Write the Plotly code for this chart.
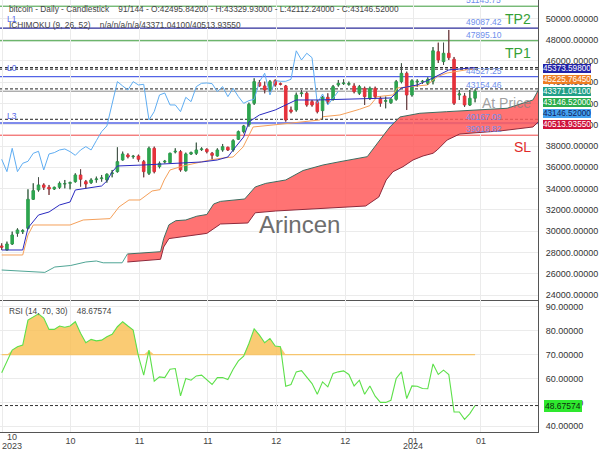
import plotly.graph_objects as go
from plotly.subplots import make_subplots

FONT = "Liberation Sans, Arial, sans-serif"

# ---------------- data ----------------
opens = [28608, 28232, 28796, 29799, 29955, 30268, 32994, 33872, 34342, 34122,
         33965, 34122, 34435, 34498, 34655, 35281, 34655, 34561, 34843, 34937,
         34811, 35407, 35595, 36691, 37161, 37005, 37067, 36535, 35438, 37788,
         36065, 36503, 36441, 37443, 37475, 35689, 37255, 37318, 37662, 37694,
         37318, 37067, 37631, 37882, 37631, 38634, 39354, 40012, 42017, 43960,
         43647, 43270, 44148, 43866, 43647, 41391, 41391, 42926, 42957, 42174,
         42174, 41328, 42581, 42393, 43740, 43866, 43803, 43647, 42957, 43427,
         42487, 43427, 42487, 42205, 42080, 42393, 44054, 44837, 42800, 44022,
         44022, 43897, 44100, 46870, 45934, 46720, 46156, 42800, 42706, 41860,
         42495.842]
highs = [28859, 29015, 29955, 30268, 30175, 33934, 34498, 35062, 34498, 34342,
         34185, 34655, 34811, 34655, 35438, 35814, 34811, 34968, 35125, 35281,
         35438, 35751, 37882, 37475, 37318, 37161, 37192, 36691, 37944, 37944,
         36535, 36691, 37380, 37788, 37631, 37380, 37475, 38320, 37882, 37788,
         37443, 37788, 38195, 37944, 38634, 39448, 39981, 42080, 44367, 44210,
         44054, 44210, 44273, 43960, 43740, 41704, 43020, 43270, 43114, 42331,
         42331, 42707, 42957, 43740, 44210, 44273, 44054, 43897, 43740, 43584,
         43584, 43584, 42644, 42644, 42487, 44210, 45777, 44994, 44273, 44273,
         44210, 44461, 47300, 47716, 47716, 48910, 46372, 43270, 42988, 43270,
         43329.93]
lows = [28232, 28169, 28702, 29485, 29736, 30175, 32932, 33715, 33872, 33402,
        33872, 33965, 34028, 33934, 34561, 34185, 34028, 34435, 34561, 34655,
        34561, 35062, 35501, 36629, 36848, 36817, 36535, 35062, 35281, 35438,
        35908, 36378, 36378, 37318, 35595, 35595, 37161, 37161, 37537, 37318,
        36754, 37005, 37475, 37537, 37475, 38571, 39198, 39824, 41861, 43584,
        42957, 43114, 43584, 43709, 40294, 41077, 41234, 42644, 41704, 41704,
        41077, 40451, 41955, 42268, 43584, 43740, 43678, 42957, 42800, 41861,
        42331, 42487, 41704, 41547, 41955, 42268, 43897, 41391, 42644, 43584,
        43834, 43740, 43800, 45808, 45620, 46090, 41860, 42330, 41672, 41766,
        42112.24]
closes = [28483, 28796, 29640, 30111, 30049, 32994, 33809, 34342, 34122, 33965,
          34122, 34498, 34467, 34561, 35281, 34874, 34435, 34811, 34905, 35000,
          35344, 35469, 36535, 37255, 37005, 37036, 36754, 35595, 37788, 35595,
          36378, 36566, 37318, 37506, 35751, 37255, 37380, 37631, 37725, 37475,
          37130, 37631, 37944, 37631, 38508, 39354, 39887, 41923, 44054, 43647,
          43270, 44054, 43740, 43803, 40451, 41234, 42800, 42988, 41861, 41861,
          41234, 42581, 42174, 43584, 43897, 43928, 43866, 43114, 43584, 42644,
          43427, 42644, 42017, 42268, 42393, 44054, 44837, 42800, 44148, 44085,
          44085, 44273, 46950, 46090, 46720, 46306, 42020, 42894, 41860, 42490,
          43146.52]
bars = list(range(len(closes)))

tenkan_x = [0, 4, 5, 7, 9, 11, 13, 14, 19, 20, 21, 22, 27, 34, 38, 41, 43, 44,
            46, 47, 49, 52, 54, 56, 60, 74, 76, 79, 82, 85, 90]
tenkan_y = [28230, 28230, 30298, 31520, 31802, 32460, 32742, 33870, 34246, 34716,
            35562, 36126, 36220, 36408, 36502, 36690, 36972, 37630, 38852, 40262,
            40920, 41390, 41860, 42330, 42330, 42518, 43458, 43740, 44398, 45150,
            45373.598]
kijun_x = [0, 4, 5, 6, 13, 15.5, 20.6, 22.3, 24.2, 26.3, 28.6, 30.1, 30.9, 32,
           34.5, 37.1, 39.6, 42.1, 44, 45.9, 47.2, 47.8, 51.6, 60.5, 61.1, 64.3,
           68, 70, 71.4, 74.4, 75.2, 80.9, 82.8, 84.7, 89, 90]
kijun_y = [27760, 27760, 29640, 30580, 30580, 31050, 31180, 32272, 32930, 32930,
           33776, 33900, 34810, 35750, 36126, 36408, 36690, 36878, 36972, 37912,
           39100, 39792, 39980, 40450, 40760, 40920, 41450, 41800, 42640, 42800,
           43458, 43740, 44520, 44868, 45216, 45225.7645]
spanA_early_x = [0, 8.2, 10.1, 13.1, 16, 18, 19.3, 22.9, 23.9]
spanA_early_y = [26350, 26124, 26632, 26773, 27102, 27196, 27027, 27027, 27854]
spanA_x = [23.9, 30.2, 30.8, 31.8, 33.1, 35, 37.1, 39, 40.3, 41.6, 46.2, 48.2,
           50.2, 54, 57.3, 61.1, 64.3, 69.5, 71.9, 73.8, 75.7, 79.5, 84.6, 90.9,
           96.1, 101, 102.5]
spanA_y = [27854, 28070, 29302, 30599, 30984, 31050, 31407, 31567, 32554, 32798,
           33024, 34152, 34490, 34810, 35700, 36220, 36530, 37000, 38570, 39792,
           40732, 41080, 41230, 41390, 41550, 42330, 43700]
spanB_x = [23.9, 30.2, 30.8, 31.8, 39, 41.6, 46.8, 48.2, 52.1, 57.3, 62.6, 65.3,
           69.2, 71.7, 73.1, 74.4, 76.3, 78.2, 80.1, 82, 82.8, 84.7, 87.1, 94.7,
           101, 102.5]
spanB_y = [27102, 27356, 28512, 29302, 29790, 30674, 30768, 31727, 31896, 32056,
           32216, 32272, 32366, 33212, 34810, 35590, 36060, 36690, 37066, 37320,
           37630, 38570, 39134, 39416, 39792, 40500]
CHIKOU_SHIFT = 26

rsi = [62.4, 67.0, 71.9, 73.3, 74.0, 84.5, 85.9, 87.1, 85.3, 80.6,
       80.6, 82.0, 81.5, 82.0, 83.8, 79.0, 75.0, 76.4, 75.8, 76.1,
       77.5, 78.5, 81.7, 83.8, 82.0, 80.3, 69.4, 61.4, 71.9, 58.9,
       60.7, 60.4, 63.9, 64.2, 52.7, 60.0, 59.3, 61.1, 61.4, 59.3,
       57.5, 60.4, 60.4, 59.6, 63.9, 67.4, 69.4, 74.7, 80.8, 78.2,
       75.0, 76.8, 73.6, 73.3, 56.8, 57.5, 62.8, 63.3, 60.7, 57.9,
       53.4, 58.6, 56.5, 62.1, 62.8, 63.2, 61.7, 56.9, 59.3, 53.4,
       56.9, 52.6, 50.0, 50.0, 50.9, 60.0, 62.8, 51.6, 56.9, 56.8,
       55.8, 55.7, 66.1, 61.7, 63.5, 61.7, 46.0, 46.0, 42.9, 45.3,
       48.67574]
RSI_UPPER = 70
rsi_last = 48.67574

# horizontal levels
level_names = ["TP2", "L1", "TP1", "tenkan", "kijun", "L0", "spanA", "price", "spanB", "L3", "SL"]
level_values = [51143.75, 49087.42, 47895.10, 45373.598, 45225.7645, 44527.25,
                43371.041, 43154.46, 40513.9355, 40167.09, 39018.82]
labelled_levels = [51143.75, 49087.42, 47895.10, 44527.25, 43154.46, 40167.09, 39018.82]

# current values boxes
box_values = [45373.598, 45225.7645, 43371.041, 43146.52, 43146.52, 40513.9355]

tick_pos = [0.06, 13.1, 26.2, 39.2, 52.2, 65.3, 78.2, 91.1]
tick_text = ["10", "10", "11", "11", "12", "12", "01", "01"]
year_text = ["2023", "2024"]
year_tick = [0, 6]

header1 = ("bitcoin - Daily - Candlestick\u00a0\u00a0\u00a0 91/144 - O:42495.84200 - "
           "H:43329.93000 - L:42112.24000 - C:43146.52000")
header2 = "ICHIMOKU (9, 26, 52)\u00a0\u00a0\u00a0 n/a/n/a/n/a/43371.04100/40513.93550"
rsi_header = "RSI (14, 70, 30)\u00a0\u00a0\u00a0 48.67574"

# ---------------- styles ----------------
level_style = {
    "TP2": ("#3c9c3c", "solid", 1), "L1": ("#2c2c9a", "solid", 1.3),
    "TP1": ("#3c9c3c", "solid", 1), "tenkan": ("#222", "3px,2px", 1),
    "kijun": ("#222", "3px,2px", 1), "L0": ("#5464e6", "solid", 1.3),
    "spanA": ("#222", "3px,2px", 1), "price": ("#8a8a8a", "solid", 1),
    "spanB": ("#222", "3px,2px", 1), "L3": ("#5464e6", "solid", 1.3),
    "SL": ("#ee4444", "solid", 1),
}
box_colors = [("#2323a8", "white"), ("#ee7d22", "white"), ("#22a088", "white"),
              ("#2aac4c", "white"), ("#44a2f0", "#10205a"), ("#cf143c", "white")]
box_px = [68, 79.5, 91, 102, 113, 124.5]

PLOT_H = 432.0
PLOT_W = 538.0

fig = make_subplots(rows=2, cols=1, shared_xaxes=True, vertical_spacing=0,
                    row_heights=[300 / 432, 132 / 432])

# cloud
fig.add_trace(go.Scatter(x=spanB_x, y=spanB_y, mode="lines",
                         line=dict(color="#8e2a3c", width=1), hoverinfo="skip"), 1, 1)
fig.add_trace(go.Scatter(x=spanA_x, y=spanA_y, mode="lines", fill="tonexty",
                         fillcolor="rgba(255,90,90,0.85)",
                         line=dict(color="#3f6d60", width=1), hoverinfo="skip"), 1, 1)
fig.add_trace(go.Scatter(x=spanA_early_x, y=spanA_early_y, mode="lines",
                         line=dict(color="#4fa595", width=1), hoverinfo="skip"), 1, 1)
# chikou
fig.add_trace(go.Scatter(x=[b - CHIKOU_SHIFT for b in bars[CHIKOU_SHIFT:]],
                         y=closes[CHIKOU_SHIFT:], mode="lines",
                         line=dict(color="#5fadf2", width=1)), 1, 1)
fig.add_trace(go.Scatter(x=kijun_x, y=kijun_y, mode="lines",
                         line=dict(color="#f5a05a", width=1)), 1, 1)
fig.add_trace(go.Scatter(x=tenkan_x, y=tenkan_y, mode="lines",
                         line=dict(color="#2a2ac0", width=1)), 1, 1)

# candles
fig.add_trace(go.Candlestick(
    x=bars, open=opens, high=highs, low=lows, close=closes,
    increasing=dict(line=dict(color="#2ea44f", width=1), fillcolor="#2ea44f"),
    decreasing=dict(line=dict(color="#e5323c", width=1), fillcolor="#e5323c"),
    whiskerwidth=0), 1, 1)
wx, wy = [], []
for b, o, h, l, c in zip(bars, opens, highs, lows, closes):
    top, bot = max(o, c), min(o, c)
    wx += [b, b, None, b, b, None]
    wy += [h, top, None, bot, l, None]
fig.add_trace(go.Scatter(x=wx, y=wy, mode="lines",
                         line=dict(color="#4a4a4a", width=1), hoverinfo="skip"), 1, 1)

# RSI
fig.add_trace(go.Scatter(x=bars, y=[RSI_UPPER] * len(bars), mode="lines",
                         line=dict(color="#f6c56e", width=1.2)), 2, 1)
fig.add_trace(go.Scatter(x=bars, y=[max(v, RSI_UPPER) for v in rsi], mode="lines",
                         fill="tonexty", fillcolor="rgba(249,190,80,0.8)",
                         line=dict(width=0)), 2, 1)
fig.add_trace(go.Scatter(x=bars, y=rsi, mode="lines",
                         line=dict(color="#5de04a", width=1.1)), 2, 1)

shapes = []
for name, v in zip(level_names, level_values):
    col, dash, w = level_style[name]
    shapes.append(dict(type="line", xref="paper", yref="y", x0=0, x1=1, y0=v, y1=v,
                       line=dict(color=col, dash=dash, width=w), layer="below"))
shapes.append(dict(type="line", xref="paper", yref="y2", x0=0, x1=1,
                   y0=rsi_last, y1=rsi_last,
                   line=dict(color="#333", dash="3px,2px", width=1), layer="below"))

ann = []
small = dict(family=FONT, size=8.3, color="#444")
ann.append(dict(text=header1, x=7 / PLOT_W, y=1 - 9 / PLOT_H, xref="paper", yref="paper",
                xanchor="left", yanchor="middle", showarrow=False, font=small))
ann.append(dict(text=header2, x=7 / PLOT_W, y=1 - 25 / PLOT_H, xref="paper", yref="paper",
                xanchor="left", yanchor="middle", showarrow=False, font=small))
ann.append(dict(text=rsi_header, x=7 / PLOT_W, y=1 - 311 / PLOT_H, xref="paper",
                yref="paper", xanchor="left", yanchor="middle", showarrow=False, font=small))
for t, py in [("L1", 19), ("L0", 68), ("L3", 116)]:
    ann.append(dict(text=t, x=5 / PLOT_W, y=1 - py / PLOT_H, xref="paper", yref="paper",
                    xanchor="left", yanchor="middle", showarrow=False,
                    font=dict(family=FONT, size=8.5, color="#5a6ae8")))
for v in labelled_levels:
    ann.append(dict(text=f"{v:.2f}", x=465 / PLOT_W, y=v, xref="paper", yref="y",
                    xanchor="left", yanchor="bottom", showarrow=False, borderpad=0,
                    font=dict(family=FONT, size=8.5, color="#6f8fec")))
big = [("TP2", 19, "#35a035"), ("TP1", 53, "#35a035"), ("At Price", 103, "rgba(130,130,130,0.75)"),
       ("SL", 147, "#e02a2a")]
for t, py, col in big:
    ann.append(dict(text=t, x=533 / PLOT_W, y=1 - py / PLOT_H, xref="paper", yref="paper",
                    xanchor="right", yanchor="middle", showarrow=False,
                    font=dict(family=FONT, size=14, color=col)))
ann.append(dict(text="Arincen", x=299 / PLOT_W, y=1 - 224 / PLOT_H, xref="paper",
                yref="paper", xanchor="center", yanchor="middle", showarrow=False,
                font=dict(family=FONT, size=24, color="#6e6e6e")))
for v, (bg, fg), py in zip(box_values, box_colors, box_px):
    ann.append(dict(text=f"{v:.5f}", x=543 / PLOT_W, y=1 - py / PLOT_H, xref="paper",
                    yref="paper", xanchor="left", yanchor="middle", showarrow=False,
                    bgcolor=bg, borderpad=0, borderwidth=0,
                    font=dict(family=FONT, size=8.2, color=fg)))
ann.append(dict(text=f"{rsi_last:.5f}", x=544 / PLOT_W, y=rsi_last, xref="paper",
                yref="y2", xanchor="left", yanchor="middle", showarrow=False,
                bgcolor="#2ee82e", borderpad=1, borderwidth=0,
                font=dict(family=FONT, size=8.5, color="#0d2a0d")))
# first month label (shifted inside the page) and year labels
ann.append(dict(text=tick_text[0], x=12 / PLOT_W, y=1 - 437 / PLOT_H, xref="paper",
                yref="paper", xanchor="center", yanchor="middle", showarrow=False,
                font=dict(family=FONT, size=9, color="#444")))
for t, k, px in zip(year_text, year_tick, [12, None]):
    xp = (px / PLOT_W) if px is not None else None
    ann.append(dict(text=t, x=xp if xp is not None else tick_pos[k], y=1 - 446 / PLOT_H,
                    xref="paper" if xp is not None else "x2", yref="paper",
                    xanchor="center", yanchor="middle", showarrow=False,
                    font=dict(family=FONT, size=9, color="#444")))

axis_common = dict(showgrid=True, gridcolor="#ebebeb", gridwidth=1, zeroline=False,
                   showline=True, linecolor="#555", linewidth=1, ticks="")
fig.update_layout(
    width=600, height=450, margin=dict(l=0, r=62, t=0, b=18),
    paper_bgcolor="white", plot_bgcolor="white", showlegend=False,
    font=dict(family=FONT, size=9, color="#333"),
    shapes=shapes, annotations=ann,
    xaxis=dict(range=[-0.32, 101.96], tickvals=tick_pos, showticklabels=False,
               rangeslider=dict(visible=False), **axis_common),
    xaxis2=dict(range=[-0.32, 101.96], tickvals=tick_pos,
                ticktext=[""] + tick_text[1:], tickfont=dict(size=9, color="#444"),
                rangeslider=dict(visible=False), **axis_common),
    yaxis=dict(side="right", range=[23530, 51726], tick0=0, dtick=2000, tickformat=".5f",
               tickfont=dict(size=9, color="#333"), ticklabelstandoff=5, **axis_common),
    yaxis2=dict(side="right", range=[37.6, 92.9], tick0=0, dtick=10, tickformat=".5f",
                tickfont=dict(size=9, color="#333"), ticklabelstandoff=5, **axis_common),
)

fig.write_html("out.html")
